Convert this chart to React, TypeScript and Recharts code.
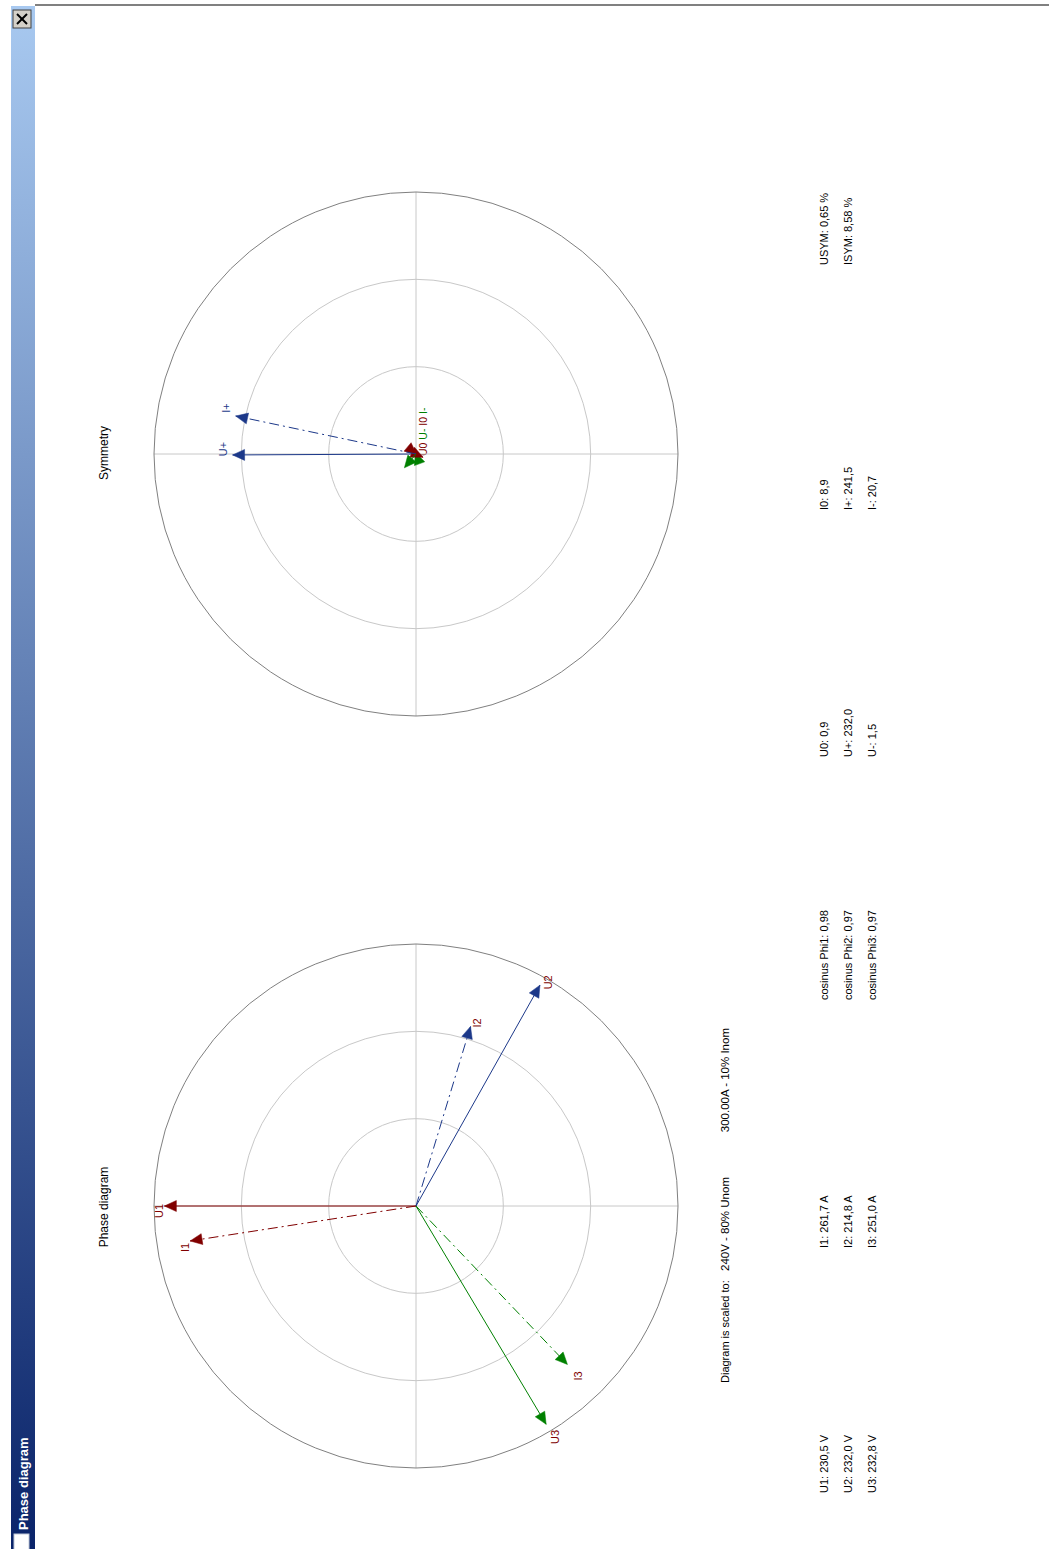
import React from 'react';
import { ScatterChart, Scatter, XAxis, YAxis, ReferenceDot, ReferenceLine } from 'recharts';

// ---------- data ----------
const voltageNames = ['U1', 'U2', 'U3'];
const voltageValues = [230.5, 232.0, 232.8]; // V
const voltageAngles = [180, 60.7, -59.2]; // deg, as drawn (picture frame)
const currentNames = ['I1', 'I2', 'I3'];
const currentValues = [261.7, 214.8, 251.0]; // A
const currentAngles = [188.8, 73.1, -46.3];
const cosPhiValues = [0.98, 0.97, 0.97];

const seqVoltageNames = ['U0', 'U+', 'U-'];
const seqVoltageValues = [0.9, 232.0, 1.5];
const seqVoltagePlotted = [0.9, 168, 1.5]; // drawn length on voltage scale
const seqVoltageAngles = [-40, 180.3, 110];
const seqCurrentNames = ['I0', 'I+', 'I-'];
const seqCurrentValues = [8.9, 241.5, 20.7];
const seqCurrentPlotted = [8.9, 211, 20.7]; // drawn length on current scale
const seqCurrentAngles = [-25, 168.1, -130];

const symmetryNames = ['USYM', 'ISYM'];
const symmetryValues = [0.65, 8.58];

const voltageScale = 240; // V at outer ring (80% Unom)
const currentScale = 300; // A at outer ring (10% Inom)
const ringFractions = [1 / 3, 2 / 3, 1];

// ---------- styles ----------
const FONT = '"Liberation Sans", Arial, sans-serif';
const RED = '#800000';
const BLUE = '#1c3889';
const GREEN = '#008000';
const phaseColors = [RED, BLUE, GREEN];
const seqColors = [RED, BLUE, GREEN];
const DASH_DOT = '10 4 2 4';
const SIZE = 600;
const HALF = SIZE / 2;
const OUTER_PX = 262;
const V_DOMAIN = (voltageScale * HALF) / OUTER_PX;
const A_DOMAIN = (currentScale * HALF) / OUTER_PX;

const fmt = (v: number, d: number) => v.toFixed(d).replace('.', ',');

type Vec = {
  name: string;
  mag: number;
  angle: number;
  axis: 'v' | 'a';
  color: string;
  dash?: string;
  showLabel: boolean;
  labelColor: string;
};

const vecData = (v: Vec) => {
  const r = (v.angle * Math.PI) / 180;
  return [
    { x: 0, y: 0, tip: false },
    { x: v.mag * Math.cos(r), y: v.mag * Math.sin(r), tip: true, angle: v.angle },
  ];
};

const arrowShape = (v: Vec, mode: 'main' | 'sym') => (props: any) => {
  const { cx, cy, payload } = props;
  if (!payload || !payload.tip || cx == null) return <g />;
  const a = (payload.angle * Math.PI) / 180;
  const dx = Math.cos(a);
  const dy = -Math.sin(a);
  const L = 12;
  const W = 5.5;
  const bx = cx - dx * L;
  const by = cy - dy * L;
  const px = -dy;
  const py = dx;
  const pts = `${cx},${cy} ${bx + px * W},${by + py * W} ${bx - px * W},${by - py * W}`;
  let lx = 0;
  let ly = 0;
  if (mode === 'main') {
    lx = cx + dx * 9 + 4;
    ly = cy + dy * 9 + 5;
  } else {
    lx = cx + dx * 10;
    ly = cy + dy * 10 - 6;
  }
  const bxl = lx + 4;
  return (
    <g>
      <polygon points={pts} fill={v.color} stroke={v.color} strokeWidth={0.5} />
      {v.showLabel && (
        <text
          x={bxl}
          y={ly}
          transform={`rotate(-90 ${bxl} ${ly})`}
          textAnchor="middle"
          fontFamily={FONT}
          fontSize={11}
          fill={v.labelColor}
        >
          {v.name}
        </text>
      )}
    </g>
  );
};

const emptyShape = () => <g />;

function Diagram({ left, top, vectors, mode }: { left: number; top: number; vectors: Vec[]; mode: 'main' | 'sym' }) {
  const margin = { top: 0, right: 0, bottom: 0, left: 0 };
  return (
    <div style={{ position: 'absolute', left, top, width: SIZE, height: SIZE }}>
      <div style={{ position: 'absolute', left: 0, top: 0 }}>
        <ScatterChart width={SIZE} height={SIZE} margin={margin}>
          <XAxis xAxisId="v" type="number" dataKey="x" domain={[-V_DOMAIN, V_DOMAIN]} hide />
          <YAxis yAxisId="v" type="number" dataKey="y" domain={[-V_DOMAIN, V_DOMAIN]} hide />
          <Scatter xAxisId="v" yAxisId="v" data={[{ x: 0, y: 0 }]} shape={emptyShape} isAnimationActive={false} />
          {ringFractions.map((f, i) => (
            <ReferenceDot
              key={i}
              xAxisId="v"
              yAxisId="v"
              x={0}
              y={0}
              r={f * OUTER_PX}
              fill="none"
              stroke={i === ringFractions.length - 1 ? '#808080' : '#c8c8c8'}
              strokeWidth={1}
            />
          ))}
          <ReferenceLine
            xAxisId="v"
            yAxisId="v"
            segment={[{ x: -voltageScale, y: 0 }, { x: voltageScale, y: 0 }]}
            stroke="#c8c8c8"
          />
          <ReferenceLine
            xAxisId="v"
            yAxisId="v"
            segment={[{ x: 0, y: -voltageScale }, { x: 0, y: voltageScale }]}
            stroke="#c8c8c8"
          />
        </ScatterChart>
      </div>
      <div style={{ position: 'absolute', left: 0, top: 0 }}>
        <ScatterChart width={SIZE} height={SIZE} margin={margin}>
          <XAxis xAxisId="v" type="number" dataKey="x" domain={[-V_DOMAIN, V_DOMAIN]} hide />
          <YAxis yAxisId="v" type="number" dataKey="y" domain={[-V_DOMAIN, V_DOMAIN]} hide />
          <XAxis xAxisId="a" type="number" dataKey="x" domain={[-A_DOMAIN, A_DOMAIN]} hide />
          <YAxis yAxisId="a" type="number" dataKey="y" domain={[-A_DOMAIN, A_DOMAIN]} hide />
          {vectors.map((v) => (
            <Scatter
              key={v.name}
              name={v.name}
              xAxisId={v.axis}
              yAxisId={v.axis}
              data={vecData(v)}
              line={{ stroke: v.color, strokeWidth: 1, strokeDasharray: v.dash }}
              lineType="joint"
              shape={arrowShape(v, mode)}
              isAnimationActive={false}
            />
          ))}
        </ScatterChart>
      </div>
    </div>
  );
}

const RotText = ({ x, y, children, anchor = 'start', size = 11, weight = 'normal', fill = '#000' }: any) => (
  <text
    x={x}
    y={y}
    transform={`rotate(-90 ${x} ${y})`}
    textAnchor={anchor}
    fontFamily={FONT}
    fontSize={size}
    fontWeight={weight}
    fill={fill}
  >
    {children}
  </text>
);

export default function App() {
  const mainVectors: Vec[] = [
    ...voltageNames.map((n, i) => ({
      name: n,
      mag: voltageValues[i],
      angle: voltageAngles[i],
      axis: 'v' as const,
      color: phaseColors[i],
      showLabel: true,
      labelColor: RED,
    })),
    ...currentNames.map((n, i) => ({
      name: n,
      mag: currentValues[i],
      angle: currentAngles[i],
      axis: 'a' as const,
      color: phaseColors[i],
      dash: DASH_DOT,
      showLabel: true,
      labelColor: RED,
    })),
  ];
  const symVectors: Vec[] = [
    ...seqVoltageNames.map((n, i) => ({
      name: n,
      mag: seqVoltagePlotted[i],
      angle: seqVoltageAngles[i],
      axis: 'v' as const,
      color: seqColors[i],
      showLabel: n === 'U+',
      labelColor: seqColors[i],
    })),
    ...seqCurrentNames.map((n, i) => ({
      name: n,
      mag: seqCurrentPlotted[i],
      angle: seqCurrentAngles[i],
      axis: 'a' as const,
      color: seqColors[i],
      dash: DASH_DOT,
      showLabel: n === 'I+',
      labelColor: seqColors[i],
    })),
  ];

  const colX = [828, 852, 876];
  const groupY = [1493, 1248, 1000, 757, 510, 265];
  const groups: string[][] = [
    voltageNames.map((n, i) => `${n}: ${fmt(voltageValues[i], 1)} V`),
    currentNames.map((n, i) => `${n}: ${fmt(currentValues[i], 1)} A`),
    cosPhiValues.map((c, i) => `cosinus Phi${i + 1}: ${fmt(c, 2)}`),
    seqVoltageNames.map((n, i) => `${n}: ${fmt(seqVoltageValues[i], 1)}`),
    seqCurrentNames.map((n, i) => `${n}: ${fmt(seqCurrentValues[i], 1)}`),
    symmetryNames.map((n, i) => `${n}: ${fmt(symmetryValues[i], 2)} %`),
  ];

  return (
    <div style={{ position: 'absolute', left: 0, top: 0, width: 1049, height: 1549, background: '#fff', overflow: 'hidden' }}>
      <svg width={1049} height={1549} style={{ position: 'absolute', left: 0, top: 0 }}>
        <defs>
          <linearGradient id="tb" x1="0" y1="0" x2="0" y2="1">
            <stop offset="0%" stopColor="#a8c9f0" />
            <stop offset="100%" stopColor="#0a246a" />
          </linearGradient>
        </defs>
        <rect x={35} y={4} width={1014} height={2} fill="#808080" />
        <rect x={11} y={6} width={24} height={1543} fill="url(#tb)" />
        <rect x={13} y={10} width={18} height={18} fill="#d4d0c8" stroke="#404040" strokeWidth={1} />
        <line x1={17} y1={14} x2={27} y2={24} stroke="#000" strokeWidth={2} />
        <line x1={27} y1={14} x2={17} y2={24} stroke="#000" strokeWidth={2} />
        <rect x={14} y={1534} width={15} height={16} fill="#fff" stroke="#c0c8d8" />
        <RotText x={28} y={1530} size={13} weight="bold" fill="#fff">Phase diagram</RotText>

        <RotText x={108} y={1207} anchor="middle" size={12}>Phase diagram</RotText>
        <RotText x={108} y={453} anchor="middle" size={12}>Symmetry</RotText>

        <RotText x={729} y={1383}>Diagram is scaled to:</RotText>
        <RotText x={729} y={1271} size={11.5}>{`${voltageScale}V - 80% Unom`}</RotText>
        <RotText x={729} y={1028} anchor="end" size={11.5}>{`${currentScale.toFixed(2)}A - 10% Inom`}</RotText>

        {groups.map((g, gi) =>
          g.map((t, ri) => (
            <RotText key={`${gi}-${ri}`} x={colX[ri]} y={groupY[gi]}>
              {t}
            </RotText>
          ))
        )}

        <text x={427} y={456} transform="rotate(-90 427 456)" fontFamily={FONT} fontSize={10.5}>
          <tspan fill={RED}>U0</tspan>
          <tspan fill={GREEN}> U-</tspan>
          <tspan fill={RED}> I0</tspan>
          <tspan fill={GREEN}> I-</tspan>
        </text>
      </svg>
      <Diagram left={416 - HALF} top={1206 - HALF} vectors={mainVectors} mode="main" />
      <Diagram left={416 - HALF} top={454 - HALF} vectors={symVectors} mode="sym" />
    </div>
  );
}
